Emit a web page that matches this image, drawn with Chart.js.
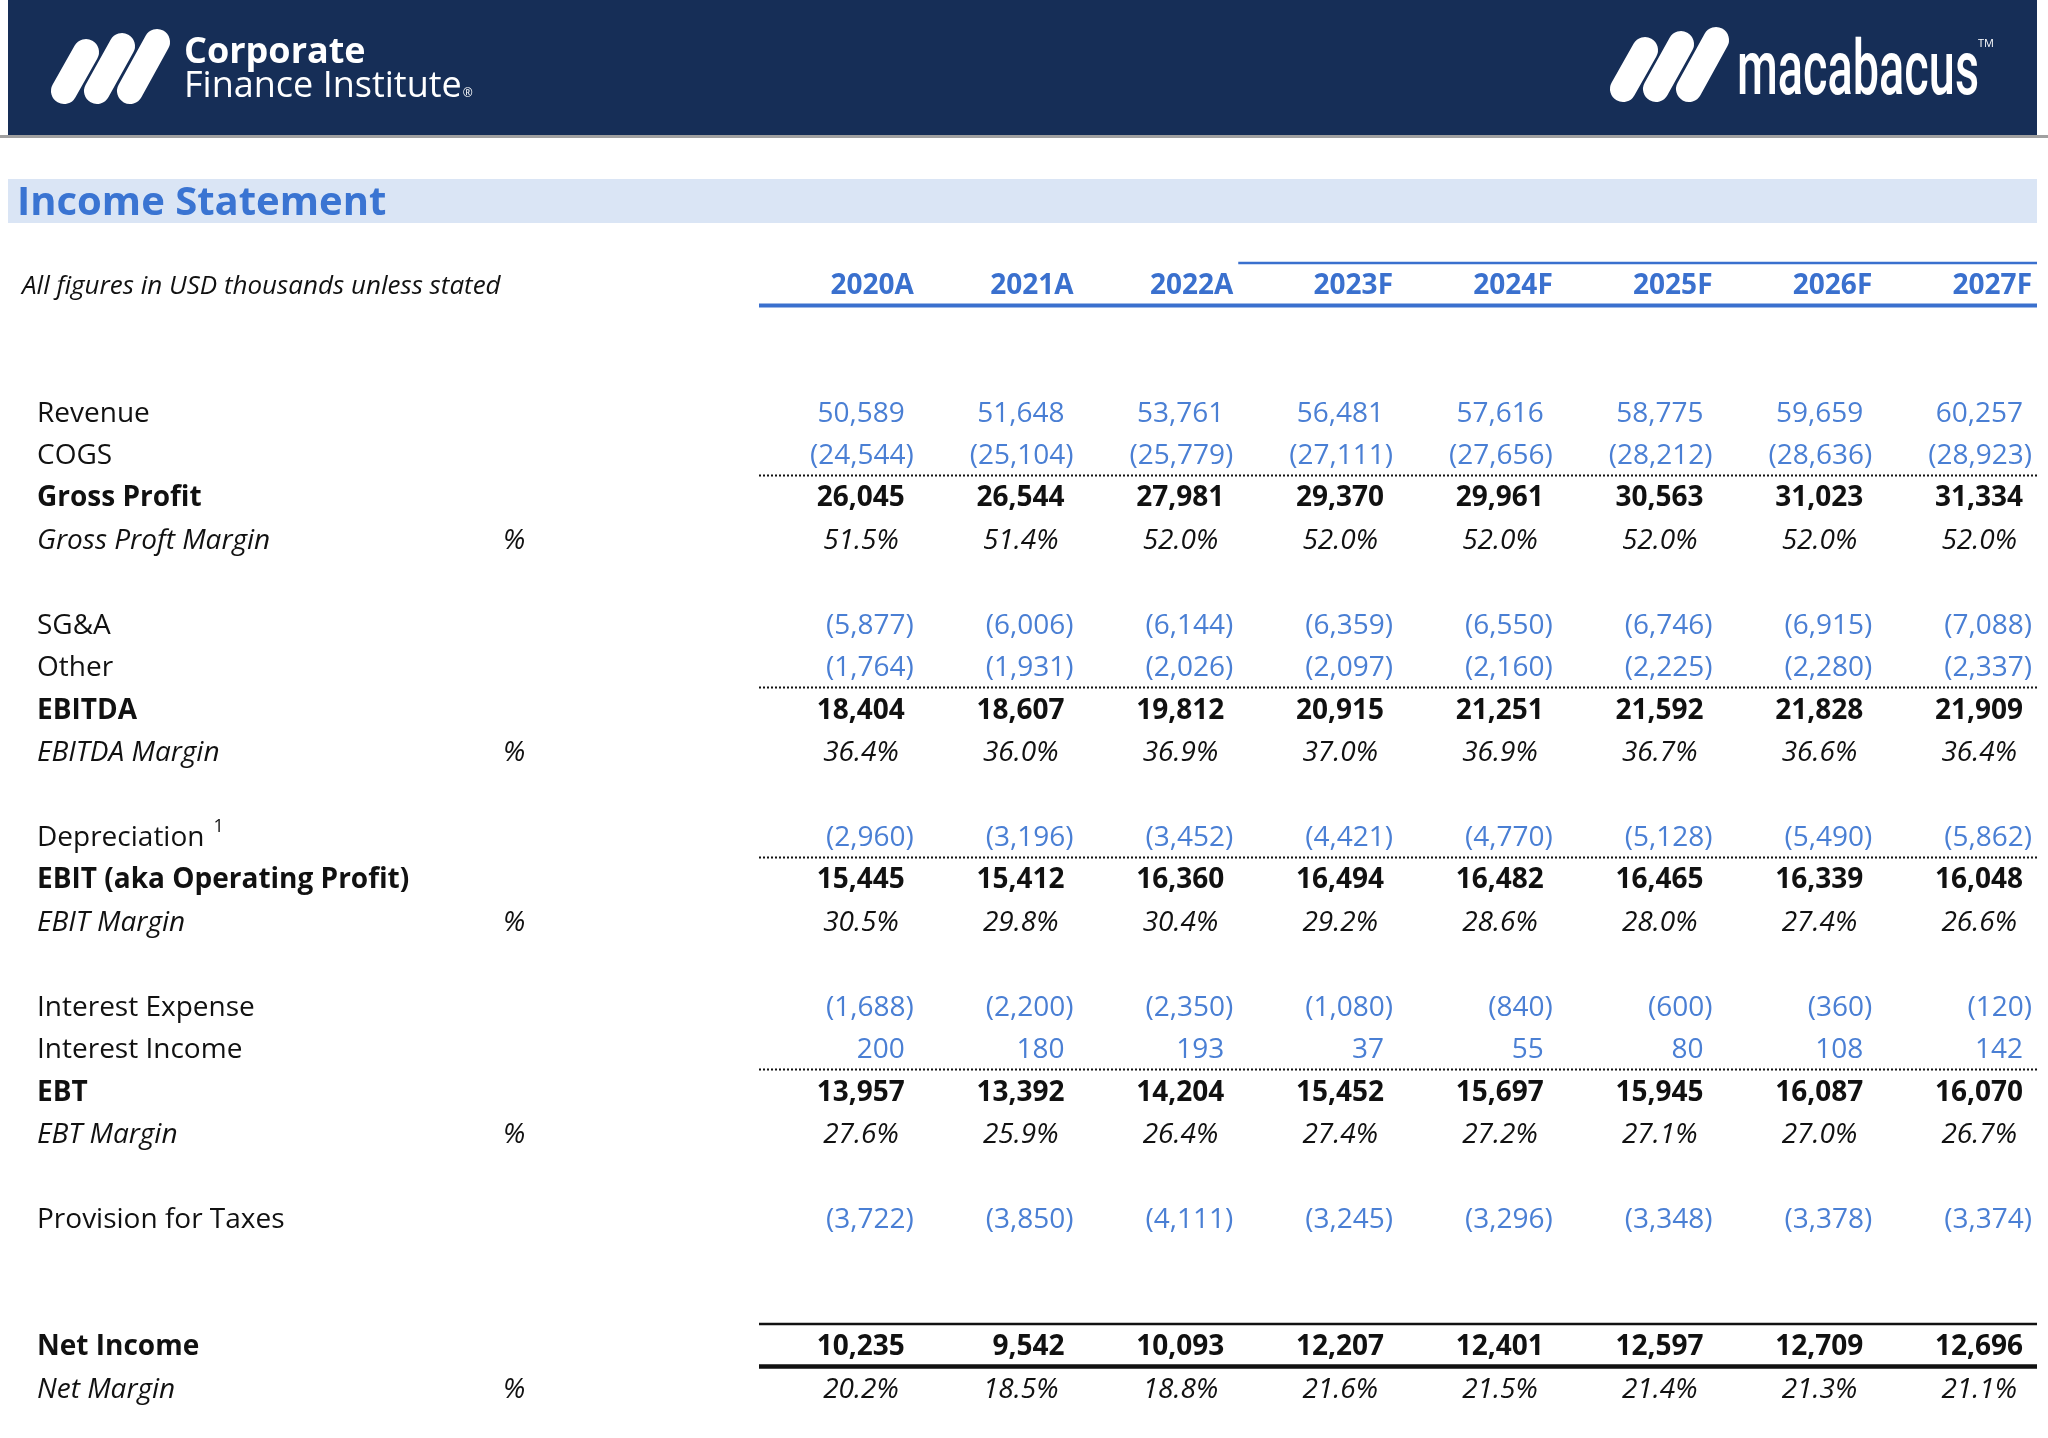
<!DOCTYPE html>
<html lang="en">
<head>
<meta charset="UTF-8">
<title>Income Statement</title>
<script src="https://cdn.jsdelivr.net/npm/chart.js@4.4.1/dist/chart.umd.min.js"></script>
<style>
  html, body { margin: 0; padding: 0; background: #fff; }
  canvas { display: block; }
</style>
</head>
<body>
<canvas id="tabla" width="2048" height="1438"></canvas>
<script>
// Columns
const years = ['2020A', '2021A', '2022A', '2023F', '2024F', '2025F', '2026F', '2027F'];

// Values, USD thousands (margins in %)
const revenue         = [50589, 51648, 53761, 56481, 57616, 58775, 59659, 60257];
const cogs            = [-24544, -25104, -25779, -27111, -27656, -28212, -28636, -28923];
const grossProfit     = [26045, 26544, 27981, 29370, 29961, 30563, 31023, 31334];
const grossMargin     = [51.5, 51.4, 52.0, 52.0, 52.0, 52.0, 52.0, 52.0];
const sga             = [-5877, -6006, -6144, -6359, -6550, -6746, -6915, -7088];
const other           = [-1764, -1931, -2026, -2097, -2160, -2225, -2280, -2337];
const ebitda          = [18404, 18607, 19812, 20915, 21251, 21592, 21828, 21909];
const ebitdaMargin    = [36.4, 36.0, 36.9, 37.0, 36.9, 36.7, 36.6, 36.4];
const depreciation    = [-2960, -3196, -3452, -4421, -4770, -5128, -5490, -5862];
const ebit            = [15445, 15412, 16360, 16494, 16482, 16465, 16339, 16048];
const ebitMargin      = [30.5, 29.8, 30.4, 29.2, 28.6, 28.0, 27.4, 26.6];
const interestExpense = [-1688, -2200, -2350, -1080, -840, -600, -360, -120];
const interestIncome  = [200, 180, 193, 37, 55, 80, 108, 142];
const ebt             = [13957, 13392, 14204, 15452, 15697, 15945, 16087, 16070];
const ebtMargin       = [27.6, 25.9, 26.4, 27.4, 27.2, 27.1, 27.0, 26.7];
const taxes           = [-3722, -3850, -4111, -3245, -3296, -3348, -3378, -3374];
const netIncome       = [10235, 9542, 10093, 12207, 12401, 12597, 12709, 12696];
const netMargin       = [20.2, 18.5, 18.8, 21.6, 21.5, 21.4, 21.3, 21.1];

// Rows of the y axis (blank ones are spacers)
const rowKeys = ['hdr', 'b1', 'b2',
  'Revenue', 'COGS', 'Gross Profit', 'Gross Proft Margin', 'b3',
  'SG&A', 'Other', 'EBITDA', 'EBITDA Margin', 'b4',
  'Depreciation', 'EBIT (aka Operating Profit)', 'EBIT Margin', 'b5',
  'Interest Expense', 'Interest Income', 'EBT', 'EBT Margin', 'b6',
  'Provision for Taxes', 'b7', 'b8',
  'Net Income', 'Net Margin'];

// row -> values and kind (input = blue, total = bold, pct = italic margin)
const filas = [
  ['Revenue', revenue, 'input'],
  ['COGS', cogs, 'input'],
  ['Gross Profit', grossProfit, 'total'],
  ['Gross Proft Margin', grossMargin, 'pct'],
  ['SG&A', sga, 'input'],
  ['Other', other, 'input'],
  ['EBITDA', ebitda, 'total'],
  ['EBITDA Margin', ebitdaMargin, 'pct'],
  ['Depreciation', depreciation, 'input'],
  ['EBIT (aka Operating Profit)', ebit, 'total'],
  ['EBIT Margin', ebitMargin, 'pct'],
  ['Interest Expense', interestExpense, 'input'],
  ['Interest Income', interestIncome, 'input'],
  ['EBT', ebt, 'total'],
  ['EBT Margin', ebtMargin, 'pct'],
  ['Provision for Taxes', taxes, 'input'],
  ['Net Income', netIncome, 'total'],
  ['Net Margin', netMargin, 'pct'],
];

// dotted line above these rows
const subtotales = ['Gross Profit', 'EBITDA', 'EBIT (aka Operating Profit)', 'EBT'];

const NAVY = '#162e57';
const AZUL_HDR = '#3a70ce';
const AZUL = '#4a7fd4';
const NEGRO = '#111111';
const FUENTE = '"Open Sans", "Noto Sans", sans-serif';

function fmt(v) {
  const s = Math.abs(v).toLocaleString('en-US');
  return v < 0 ? '(' + s + ')' : s;
}

// slanted round pills of the logos
function pills(ctx, dx, dy) {
  ctx.save();
  ctx.strokeStyle = '#ffffff';
  ctx.lineWidth = 26;
  ctx.lineCap = 'round';
  const segs = [[64, 91, 86, 52], [97, 91, 122, 46], [130, 91, 157, 42]];
  segs.forEach(s => {
    ctx.beginPath();
    ctx.moveTo(s[0] + dx, s[1] + dy);
    ctx.lineTo(s[2] + dx, s[3] + dy);
    ctx.stroke();
  });
  ctx.restore();
}

const tablaPlugin = {
  id: 'tabla',
  beforeDraw(chart) {
    const ctx = chart.ctx;
    ctx.save();
    ctx.fillStyle = '#ffffff';
    ctx.fillRect(0, 0, chart.width, chart.height);

    // banner
    ctx.fillStyle = '#a0a0a0';
    ctx.fillRect(0, 135, chart.width, 3);
    ctx.fillStyle = NAVY;
    ctx.fillRect(8, 0, 2029, 135);
    pills(ctx, 0, 0);
    ctx.fillStyle = '#ffffff';
    ctx.textBaseline = 'alphabetic';
    ctx.textAlign = 'left';
    ctx.font = 'bold 36px ' + FUENTE;
    ctx.fillText('Corporate', 184, 63);
    ctx.font = '36px ' + FUENTE;
    ctx.fillText('Finance Institute', 184, 97);
    const w = ctx.measureText('Finance Institute').width;
    ctx.font = '12px ' + FUENTE;
    ctx.fillText('®', 184 + w + 1, 97);

    pills(ctx, 1559, -2);
    ctx.save();
    ctx.font = '500 76px Roboto, ' + FUENTE;
    const mw = ctx.measureText('macabacus').width;
    ctx.translate(1737, 94);
    ctx.scale(242 / mw, 1);
    ctx.fillText('macabacus', 0, 0);
    ctx.restore();
    ctx.font = '11px ' + FUENTE;
    ctx.fillText('TM', 1978, 47);

    // title band
    ctx.fillStyle = '#dae5f5';
    ctx.fillRect(8, 179, 2029, 44);
    ctx.fillStyle = '#3a74d2';
    ctx.font = 'bold 40px ' + FUENTE;
    ctx.fillText('Income Statement', 17, 215);
    ctx.restore();
  },
  afterDatasetsDraw(chart) {
    const ctx = chart.ctx;
    const xs = chart.scales.x;
    const ys = chart.scales.y;
    const area = chart.chartArea;
    const banda = xs.width / years.length;
    const alto = ys.height / rowKeys.length;
    const yRow = k => ys.getPixelForValue(rowKeys.indexOf(k));
    ctx.save();

    // header row
    const yh = yRow('hdr');
    ctx.textBaseline = 'alphabetic';
    ctx.fillStyle = NEGRO;
    ctx.textAlign = 'left';
    ctx.font = 'italic 26px ' + FUENTE;
    ctx.fillText('All figures in USD thousands unless stated', 22, yh + 10);
    ctx.fillStyle = AZUL_HDR;
    ctx.textAlign = 'right';
    ctx.font = 'bold 28px ' + FUENTE;
    years.forEach((y, i) => {
      const cx = xs.getPixelForValue(i);
      ctx.fillText(y, cx + banda / 2 - 5, yh + 10);
    });
    ctx.strokeStyle = AZUL_HDR;
    ctx.lineWidth = 4;
    ctx.beginPath();
    ctx.moveTo(area.left, yh + alto / 2);
    ctx.lineTo(area.right, yh + alto / 2);
    ctx.stroke();
    ctx.lineWidth = 2.5;
    ctx.beginPath();
    const xf = xs.getPixelForValue(years.indexOf('2023F')) - banda / 2;
    ctx.moveTo(xf, yh - alto / 2);
    ctx.lineTo(area.right, yh - alto / 2);
    ctx.stroke();

    // borders
    ctx.strokeStyle = NEGRO;
    ctx.lineWidth = 2;
    ctx.setLineDash([2, 2]);
    subtotales.forEach(k => {
      const y = Math.round(yRow(k) - alto / 2) + 0.5;
      ctx.beginPath();
      ctx.moveTo(area.left, y);
      ctx.lineTo(area.right, y);
      ctx.stroke();
    });
    ctx.setLineDash([]);
    const yn = yRow('Net Income');
    ctx.lineWidth = 2.5;
    ctx.beginPath();
    ctx.moveTo(area.left, yn - alto / 2);
    ctx.lineTo(area.right, yn - alto / 2);
    ctx.stroke();
    ctx.lineWidth = 4.5;
    ctx.beginPath();
    ctx.moveTo(area.left, yn + alto / 2);
    ctx.lineTo(area.right, yn + alto / 2);
    ctx.stroke();

    // cells, placed at the points laid out by the scales
    chart.data.datasets.forEach((ds, di) => {
      const meta = chart.getDatasetMeta(di);
      const kind = ds.kind;
      let font = '28px ' + FUENTE;
      let color = AZUL;
      if (kind === 'total') { font = 'bold 28px ' + FUENTE; color = NEGRO; }
      if (kind === 'pct') { font = 'italic 28px ' + FUENTE; color = NEGRO; }
      const ylab = meta.data.length ? meta.data[0].y : yRow(ds.label);

      // row label
      ctx.textAlign = 'left';
      ctx.fillStyle = NEGRO;
      ctx.font = font;
      ctx.fillText(ds.label, 37, ylab + 10);
      if (ds.label === 'Depreciation') {
        const lw = ctx.measureText(ds.label).width;
        ctx.font = '18px ' + FUENTE;
        ctx.fillText('1', 37 + lw + 9, ylab - 4);
      }
      if (kind === 'pct') {
        ctx.font = font;
        ctx.fillText('%', 503, ylab + 10);
      }

      ctx.textAlign = 'right';
      ctx.fillStyle = color;
      ctx.font = font;
      meta.data.forEach((pt, i) => {
        const v = ds.data[i].v;
        const borde = pt.x + banda / 2 - 5;
        let txt, x;
        if (kind === 'pct') { txt = v.toFixed(1) + '%'; x = borde - 15; }
        else { txt = fmt(v); x = v < 0 ? borde : borde - 9; }
        ctx.fillText(txt, x, pt.y + 10);
      });
    });
    ctx.restore();
  }
};

function crear() {
  const datasets = filas.map(f => ({
    label: f[0],
    kind: f[2],
    data: years.map((y, i) => ({ x: y, y: f[0], v: f[1][i] })),
    pointRadius: 0,
    pointHoverRadius: 0,
    pointHitRadius: 0
  }));
  new Chart(document.getElementById('tabla'), {
    type: 'scatter',
    data: { datasets },
    options: {
      responsive: false,
      devicePixelRatio: 1,
      animation: false,
      events: [],
      layout: { padding: { left: 759, right: 11, top: 263, bottom: 29 } },
      plugins: { legend: { display: false }, tooltip: { enabled: false } },
      scales: {
        x: { type: 'category', labels: years, offset: true, display: false },
        y: { type: 'category', labels: rowKeys, offset: true, display: false }
      }
    },
    plugins: [tablaPlugin]
  });
}

const cargas = [
  '28px "Open Sans"', 'bold 28px "Open Sans"', 'italic 28px "Open Sans"', '500 76px Roboto'
].map(f => document.fonts.load(f).catch(() => null));
Promise.all(cargas).then(crear, crear);
</script>
</body>
</html>
